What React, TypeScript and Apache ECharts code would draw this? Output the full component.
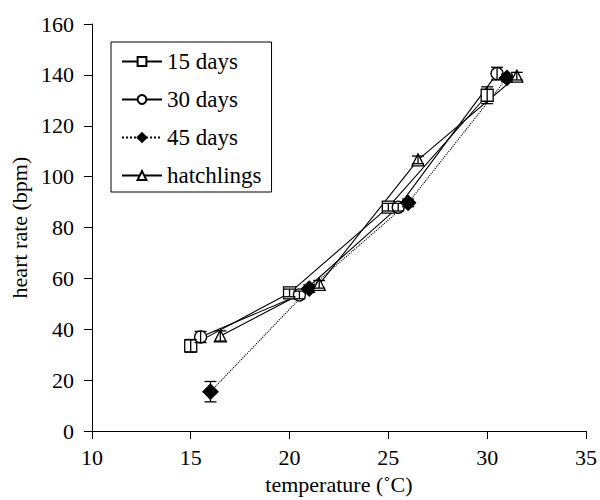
import React, { useEffect, useRef } from "react";
import * as echarts from "echarts";

const seriesNames = ["15 days", "30 days", "45 days", "hatchlings"];
const temps15 = [15, 20, 25, 30];
const rate15 = [33.5, 54.3, 88, 132];
const err15 = [2.5, 1.5, 1.5, 3.3];
const temps30 = [15.5, 20.5, 25.5, 30.5];
const rate30 = [37, 53.5, 88, 140.5];
const err30 = [2.2, 1.5, 1.5, 2.5];
const temps45 = [16, 21, 26, 31];
const rate45 = [15.5, 56, 89.7, 138.8];
const err45 = [4, 1.5, 1.5, 1.5];
const tempsH = [16.5, 21.5, 26.5, 31.5];
const rateH = [37.4, 57.7, 106.6, 139.5];
const errH = [2, 1.5, 1.5, 1.5];

const symbols = ["rect", "circle", "diamond", "triangle"];
const fills = ["#fff", "#fff", "#000", "#fff"];
const lineTypes = ["solid", "solid", "dotted", "solid"];
const allTemps = [temps15, temps30, temps45, tempsH];
const allRates = [rate15, rate30, rate45, rateH];
const allErrs = [err15, err30, err45, errH];

const FONT = "Liberation Serif";

export default function App() {
  const ref = useRef<HTMLDivElement>(null);
  useEffect(() => {
    if (!ref.current) return;
    const chart = echarts.init(ref.current, null, { renderer: "svg" });
    const lineSeries: any[] = seriesNames.map((name, i) => ({
      name,
      type: "line",
      data: allTemps[i].map((t, j) => [t, allRates[i][j]]),
      symbol: symbols[i],
      symbolSize: i === 2 ? 15 : 12,
      showSymbol: true,
      lineStyle: { color: "#000", width: 1.1, type: lineTypes[i] },
      itemStyle: { color: fills[i], borderColor: "#000", borderWidth: 1.3 },
      z: 3,
    }));
    const errSeries: any[] = seriesNames.map((name, i) => ({
      name: name + " err",
      type: "custom",
      data: allTemps[i].map((t, j) => [t, allRates[i][j] - allErrs[i][j], allRates[i][j] + allErrs[i][j]]),
      renderItem: (params: any, api: any) => {
        const x = api.value(0);
        const lo = api.coord([x, api.value(1)]);
        const hi = api.coord([x, api.value(2)]);
        const hw = 6;
        const style = { stroke: "#000", lineWidth: 1.3 };
        return {
          type: "group",
          children: [
            { type: "line", shape: { x1: lo[0], y1: lo[1], x2: hi[0], y2: hi[1] }, style },
            { type: "line", shape: { x1: lo[0] - hw, y1: lo[1], x2: lo[0] + hw, y2: lo[1] }, style },
            { type: "line", shape: { x1: hi[0] - hw, y1: hi[1], x2: hi[0] + hw, y2: hi[1] }, style },
          ],
        };
      },
      z: 4,
      silent: true,
    }));
    chart.setOption({
      animation: false,
      backgroundColor: "#fff",
      grid: { left: 88, right: 13, top: 24, bottom: 63 },
      legend: {
        data: seriesNames,
        orient: "vertical",
        left: 111,
        top: 42,
        itemWidth: 40,
        itemHeight: 11,
        itemGap: 15,
        padding: [8, 10, 5, 10],
        borderColor: "#000",
        borderWidth: 1,
        textStyle: { fontFamily: FONT, fontSize: 23, lineHeight: 23, color: "#000" },
      },
      xAxis: {
        type: "value",
        min: 10,
        max: 35,
        interval: 5,
        name: "temperature (˚C)",
        nameLocation: "middle",
        nameGap: 40,
        nameTextStyle: { fontFamily: FONT, fontSize: 22, color: "#000" },
        axisLine: { onZero: false, lineStyle: { color: "#000", width: 1 } },
        axisTick: { inside: false, length: 8, lineStyle: { color: "#000" } },
        axisLabel: { fontFamily: FONT, fontSize: 22, color: "#000", margin: 15 },
        splitLine: { show: false },
      },
      yAxis: {
        type: "value",
        min: 0,
        max: 160,
        interval: 20,
        name: "heart rate (bpm)",
        nameLocation: "middle",
        nameGap: 60,
        nameTextStyle: { fontFamily: FONT, fontSize: 22, color: "#000" },
        axisLine: { show: true, onZero: false, lineStyle: { color: "#000", width: 1 } },
        axisTick: { show: true, inside: false, length: 8, lineStyle: { color: "#000" } },
        axisLabel: { fontFamily: FONT, fontSize: 22, color: "#000", margin: 18 },
        splitLine: { show: false },
      },
      series: [...lineSeries, ...errSeries],
    });
    return () => chart.dispose();
  }, []);
  return (
    <div
      ref={ref}
      style={{ position: "absolute", left: 0, top: 0, width: 600, height: 500 }}
    />
  );
}
